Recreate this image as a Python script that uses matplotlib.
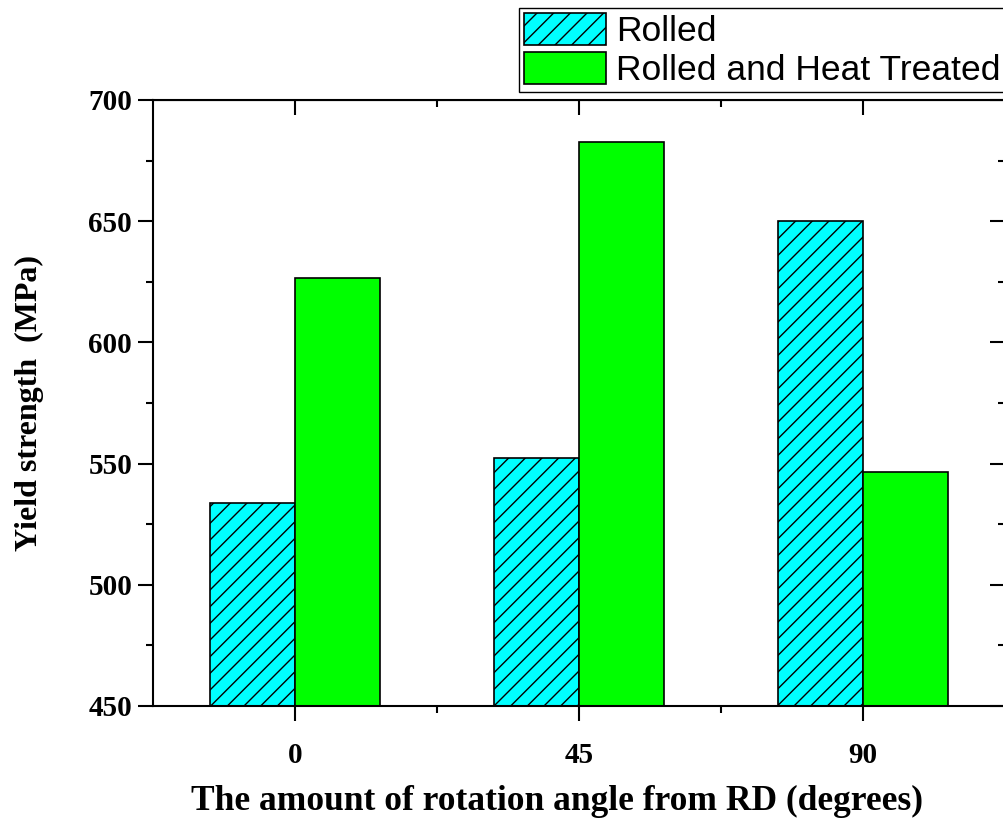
#!/usr/bin/env python3
# -*- coding: utf-8 -*-

import numpy as np
import matplotlib as mpl
mpl.use('Agg')
import matplotlib.pyplot as plt
from matplotlib.ticker import MultipleLocator, FixedLocator

mpl.rcParams['hatch.linewidth'] = 1.0

angles = ['0', '45', '90']
rolled = [533.7, 552.3, 650.0]
heat_treated = [626.6, 682.7, 546.5]
series_names = ['Rolled', 'Rolled and Heat Treated']

SERIF = 'Liberation Serif'
SANS = 'Liberation Sans'


def main() -> None:
    fig = plt.figure(figsize=(10.04, 8.25), dpi=100)
    ax = fig.add_axes([153 / 1004, 1 - 706 / 825, 852 / 1004, 606 / 825])

    x = np.arange(len(angles))
    w = 0.3
    ax.bar(x - w / 2, rolled, w, color='#00ffff', edgecolor='black',
           hatch='//', linewidth=1.2, label=series_names[0])
    ax.bar(x + w / 2, heat_treated, w, color='#00ff00', edgecolor='black',
           linewidth=1.2, label=series_names[1])

    ax.set_xlim(-0.5, 2.5)
    ax.set_ylim(450, 700)
    ax.set_xticks(x)
    ax.set_xticklabels(angles)
    ax.xaxis.set_minor_locator(FixedLocator([0.5, 1.5]))
    ax.yaxis.set_major_locator(MultipleLocator(50))
    ax.yaxis.set_minor_locator(MultipleLocator(25))

    for s in ax.spines.values():
        s.set_linewidth(1.5)

    ax.tick_params(which='both', direction='out', width=1.5,
                   top=False, right=False)
    ax.tick_params(which='major', length=11, labelsize=21)
    ax.tick_params(which='minor', length=5)
    ax.tick_params(axis='y', which='major', pad=4)
    ax.tick_params(axis='x', which='major', pad=15)
    for lab in ax.get_xticklabels() + ax.get_yticklabels():
        lab.set_fontfamily(SERIF)
        lab.set_fontweight('bold')

    # inward ticks on the top and right edges
    sec_x = ax.secondary_xaxis('top')
    sec_x.set_xticks(x)
    sec_x.xaxis.set_minor_locator(FixedLocator([0.5, 1.5]))
    sec_x.tick_params(which='both', direction='in', width=1.5, labeltop=False)
    sec_x.tick_params(which='major', length=11)
    sec_x.tick_params(which='minor', length=5)
    sec_y = ax.secondary_yaxis('right')
    sec_y.yaxis.set_major_locator(MultipleLocator(50))
    sec_y.yaxis.set_minor_locator(MultipleLocator(25))
    sec_y.tick_params(which='both', direction='in', width=1.5, labelright=False)
    sec_y.tick_params(which='major', length=11)
    sec_y.tick_params(which='minor', length=5)

    ax.set_xlabel('The amount of rotation angle from RD (degrees)',
                  fontfamily=SERIF, fontweight='bold', fontsize=25.5)
    ax.xaxis.set_label_coords(0.474, -0.13)
    ax.set_ylabel('Yield strength  (MPa)', fontfamily=SERIF,
                  fontweight='bold', fontsize=23, labelpad=32)

    leg = fig.legend(loc='upper left', bbox_to_anchor=(519 / 1004, 1 - 8 / 825),
                     prop={'family': SANS, 'size': 25.5}, fancybox=False,
                     edgecolor='black', framealpha=1, borderpad=0.15,
                     handlelength=2.3, handleheight=1.0, labelspacing=0.1,
                     handletextpad=0.3, borderaxespad=0)
    leg.get_frame().set_linewidth(1.0)

    fig.savefig('out.png', dpi=100)


if __name__ == '__main__':
    main()
